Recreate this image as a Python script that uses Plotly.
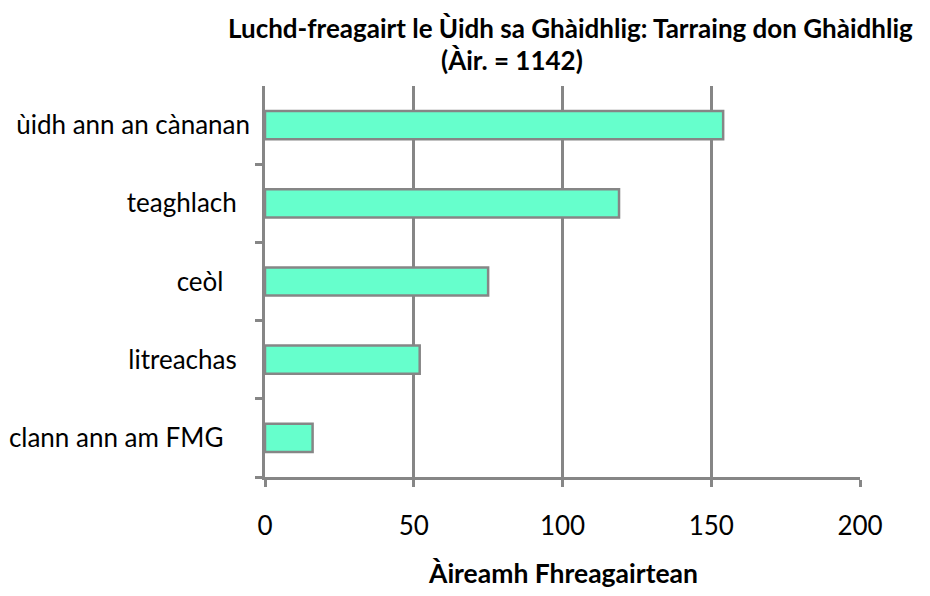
import plotly.graph_objects as go

categories = ["ùidh ann an cànanan", "teaghlach", "ceòl", "litreachas", "clann ann am FMG"]
tick_labels = ["ùidh ann an cànanan", "teaghlach\u00a0\u00a0", "ceòl\u00a0\u00a0\u00a0\u00a0", "litreachas\u00a0\u00a0", "clann ann am FMG\u00a0\u00a0\u00a0\u00a0"]
values = [154, 119, 75, 52, 16]
x_ticks = [0, 50, 100, 150, 200]

FONT = "Lato"
GRAY = "#868686"
W, H = 930, 596
ML, MR, MT, MB = 265, 70, 86, 119

fig = go.Figure(go.Bar(
    y=categories, x=values, orientation="h",
    marker=dict(color="#66FFCC", line=dict(color=GRAY, width=2.5)),
    width=0.36,
))

def px_to_paper(xp, yp):
    return (xp - ML) / (W - ML - MR), ((H - yp) - MB) / (H - MT - MB)

title_items = [
    ("<b>Luchd-freagairt le Ùidh sa Ghàidhlig: Tarraing don Ghàidhlig</b>", 570, 28, 26),
    ("<b>(Àir. = 1142)</b>", 512, 60, 26),
    ("<b>Àireamh Fhreagairtean</b>", 563, 573, 26.5),
]
annotations = []
for text, xp, yp, fs in title_items:
    xx, yy = px_to_paper(xp, yp)
    annotations.append(dict(text=text, x=xx, y=yy, xref="paper", yref="paper",
                            xanchor="center", yanchor="middle", showarrow=False,
                            borderpad=0,
                            font=dict(family=FONT, size=fs, color="black")))

fig.update_layout(
    width=W, height=H,
    margin=dict(l=ML, r=MR, t=MT, b=MB, autoexpand=False),
    paper_bgcolor="white", plot_bgcolor="white",
    showlegend=False,
    font=dict(family=FONT, size=26, color="black"),
    xaxis=dict(
        range=[0, 200], tickvals=x_ticks, ticktext=[str(v) for v in x_ticks],
        showgrid=True, gridcolor=GRAY, gridwidth=2.5,
        showline=True, linecolor=GRAY, linewidth=2.5,
        ticks="outside", ticklen=7, tickwidth=2.5, tickcolor=GRAY,
        ticklabelstandoff=17, zeroline=False,
        tickfont=dict(family=FONT, size=26),
    ),
    yaxis=dict(
        categoryorder="array", categoryarray=categories[::-1],
        tickvals=categories, ticktext=tick_labels,
        showline=True, linecolor=GRAY, linewidth=2.5,
        ticks="outside", ticklen=7, tickwidth=2.5, tickcolor=GRAY,
        tickson="boundaries", showgrid=False,
        tickfont=dict(family=FONT, size=26),
        ticklabelstandoff=7,
    ),
    annotations=annotations,
)

fig.write_html("out.html", config={"displayModeBar": False},
               post_script="document.body.style.margin='0px';")
